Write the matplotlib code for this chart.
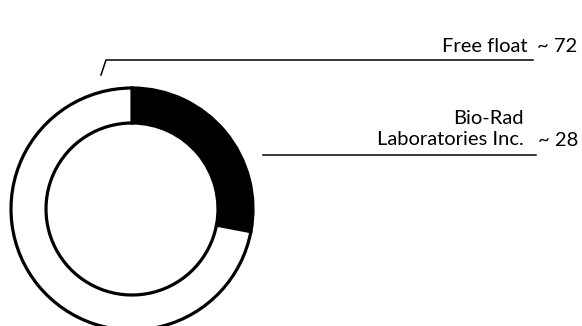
import matplotlib
matplotlib.use("Agg")
import matplotlib.pyplot as plt

# shareholder split (%)
labels = ["Bio-Rad\nLaboratories Inc.", "Free float"]
values = [28, 72]
value_text = ["~ 28", "~ 72"]
colors = ["black", "white"]

plt.rcParams['font.family'] = ['Lato', 'DejaVu Sans']

W, H = 582, 326
fig = plt.figure(figsize=(W / 100, H / 100), dpi=100)
ax = fig.add_axes([0, 0, 1, 1])

# pixel-ish coordinates, y measured from bottom
cx, cy, r = 132, H - 209, 121
ax.pie(values, colors=colors, center=(cx, cy), radius=r, startangle=90,
       counterclock=False,
       wedgeprops=dict(width=35, edgecolor="black", linewidth=2.3))
ax.set_xlim(0, W)
ax.set_ylim(0, H)
ax.set_aspect("equal")
ax.axis("off")

# leader lines
ax.plot([101, 106, 533], [H - 75, H - 60, H - 60], color="black", lw=1.1)
ax.plot([263, 536], [H - 155, H - 155], color="black", lw=1.1)

# labels
fs = 14.5
ax.text(528, H - 47, labels[1], ha="right", va="center", fontsize=fs)
ax.text(537, H - 47, value_text[1], ha="left", va="center", fontsize=fs)
ax.text(524, H - 129, labels[0], ha="right", va="center", fontsize=fs,
        multialignment="right", linespacing=1.35)
ax.text(538, H - 141, value_text[0], ha="left", va="center", fontsize=fs)

fig.savefig("out.png", dpi=100)
